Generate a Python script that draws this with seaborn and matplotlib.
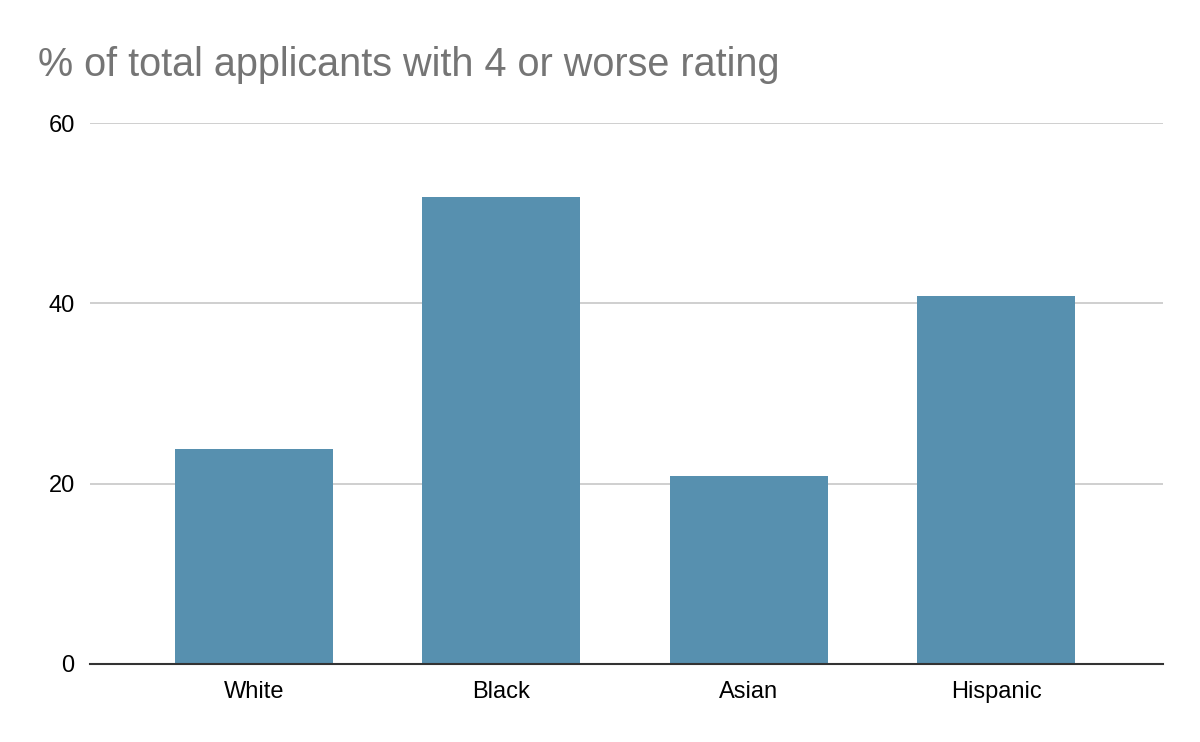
import matplotlib
matplotlib.use("Agg")
import matplotlib.pyplot as plt
import seaborn as sns
import pandas as pd

groups = ["White", "Black", "Asian", "Hispanic"]
pct_values = [23.9, 51.8, 20.8, 40.8]
y_ticks = [0, 20, 40, 60]

sns.set_theme(style="white")
plt.rcParams["font.family"] = ["Liberation Sans", "DejaVu Sans"]

df = pd.DataFrame({"group": groups, "pct": pct_values})

fig = plt.figure(figsize=(12, 7.42), dpi=100)
ax = fig.add_axes([90 / 1200, 1 - 664 / 742, (1163 - 90) / 1200, (664 - 123) / 742])

sns.barplot(data=df, x="group", y="pct", color="#5790AF", saturation=1,
            width=0.64, linewidth=0, ax=ax, zorder=3)

ax.set_ylim(0, 60)
ax.set_xlim(-0.663, 3.675)
ax.set_yticks(y_ticks)
ax.yaxis.grid(True, color="#CCCCCC", linewidth=1.3, zorder=0)
ax.set_axisbelow(True)
for side in ["top", "right", "left"]:
    ax.spines[side].set_visible(False)
ax.spines["bottom"].set_color("#333333")
ax.spines["bottom"].set_linewidth(1.5)
ax.spines["bottom"].set_zorder(5)
ax.tick_params(axis="both", length=0, labelsize=17, colors="black")
ax.tick_params(axis="y", pad=11)
ax.tick_params(axis="x", pad=12)
ax.set_xlabel("")
ax.set_ylabel("")

fig.text(38 / 1200, 1 - 76 / 742, "% of total applicants with 4 or worse rating",
         fontsize=28.5, color="#757575", ha="left", va="baseline")

fig.savefig("out.png", dpi=100)
